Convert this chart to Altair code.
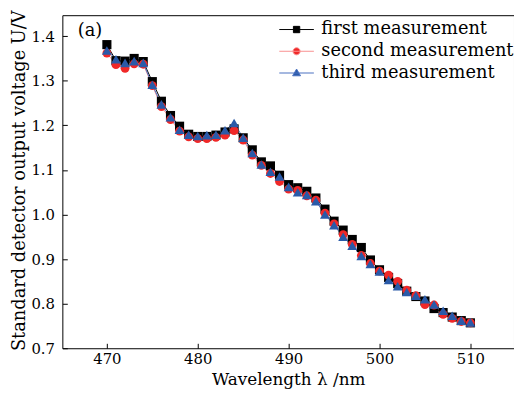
import altair as alt
import pandas as pd

wavelength = [470, 471, 472, 473, 474, 475, 476, 477, 478, 479, 480,
              481, 482, 483, 484, 485, 486, 487, 488, 489, 490,
              491, 492, 493, 494, 495, 496, 497, 498, 499, 500,
              501, 502, 503, 504, 505, 506, 507, 508, 509, 510]
first = [1.381, 1.345, 1.344, 1.350, 1.343, 1.298, 1.254, 1.222, 1.198, 1.180, 1.175,
         1.175, 1.178, 1.185, 1.192, 1.172, 1.145, 1.118, 1.109, 1.088, 1.067,
         1.060, 1.052, 1.037, 1.012, 0.985, 0.965, 0.944, 0.926, 0.898, 0.876,
         0.859, 0.845, 0.828, 0.816, 0.806, 0.789, 0.780, 0.770, 0.762, 0.757]
second = [1.362, 1.336, 1.328, 1.338, 1.337, 1.289, 1.242, 1.213, 1.187, 1.174, 1.170,
          1.170, 1.173, 1.178, 1.188, 1.167, 1.133, 1.110, 1.092, 1.074, 1.057,
          1.054, 1.042, 1.032, 1.003, 0.979, 0.955, 0.933, 0.908, 0.890, 0.873,
          0.864, 0.850, 0.830, 0.818, 0.798, 0.797, 0.776, 0.767, 0.760, 0.757]
third = [1.368, 1.348, 1.340, 1.344, 1.340, 1.291, 1.247, 1.218, 1.190, 1.179, 1.176,
         1.178, 1.179, 1.189, 1.205, 1.172, 1.138, 1.112, 1.096, 1.085, 1.062,
         1.050, 1.044, 1.030, 1.000, 0.976, 0.950, 0.930, 0.907, 0.889, 0.872,
         0.853, 0.839, 0.826, 0.818, 0.810, 0.798, 0.784, 0.773, 0.762, 0.758]

series_names = ["first measurement", "second measurement", "third measurement"]
marker_colors = ["#000000", "#f02828", "#2a5aa8"]
line_colors = ["#000000", "#f89090", "#4a70c0"]
x_ticks = [470, 480, 490, 500, 510]
y_ticks = [0.7, 0.8, 0.9, 1.0, 1.1, 1.2, 1.3, 1.4]

legend_paths = [
    "M-1.75,0H1.75M-0.32,-0.32H0.32V0.32H-0.32Z",
    "M-1.75,0H1.75M-0.36,0A0.36,0.36,0,1,0,0.36,0A0.36,0.36,0,1,0,-0.36,0Z",
    "M-1.75,0H1.75M0,-0.4L0.4,0.28L-0.4,0.28Z",
]

rows = []
for name, vals in zip(series_names, [first, second, third]):
    for w, v in zip(wavelength, vals):
        rows.append({"w": w, "v": v, "series": name})
df = pd.DataFrame(rows)

FONT = "DejaVu Serif"

x = alt.X("w:Q",
          scale=alt.Scale(domain=[465.1, 514.8], nice=False, zero=False),
          axis=alt.Axis(values=x_ticks, format="d", title="Wavelength λ /nm",
                        grid=False, domain=False, offset=-5, tickSize=5,
                        labelPadding=3, titleFontSize=17,
                        titleBaseline="alphabetic", titleY=42))
y = alt.Y("v:Q",
          scale=alt.Scale(domain=[0.7, 1.447], nice=False, zero=False),
          axis=alt.Axis(values=y_ticks, format=".1f",
                        title="Standard detector output voltage U/V",
                        grid=False, domain=False, offset=-5, tickSize=5,
                        labelPadding=8, titleFontSize=18,
                        titleX=-39, titleY=167))

base = alt.Chart(df)
layers = []
for name, lc in zip(series_names, line_colors):
    layers.append(base.transform_filter(alt.datum.series == name)
                  .mark_line(color=lc, strokeWidth=1)
                  .encode(x=x, y=y))

layers.append(base.transform_filter(alt.datum.series == series_names[0])
              .mark_square(color=marker_colors[0], size=85, opacity=1)
              .encode(x=x, y=y))
layers.append(base.transform_filter(alt.datum.series == series_names[1])
              .mark_circle(color=marker_colors[1], size=80, opacity=1)
              .encode(x=x, y=y))
layers.append(base.transform_filter(alt.datum.series == series_names[2])
              .mark_point(shape="triangle-up", filled=True, color=marker_colors[2],
                          size=100, opacity=1)
              .encode(x=x, y=y))

leg = alt.Legend(title=None, orient="none", legendX=226.5, legendY=4,
                 labelFont=FONT, labelFontSize=18, labelColor="black",
                 labelOffset=14.5, rowPadding=2, symbolSize=400,
                 symbolStrokeWidth=1, padding=0, labelLimit=400)
legend_layer = (base.transform_filter("datum.w > 100000")
                .mark_point(filled=True, opacity=1)
                .encode(x=x, y=y,
                        color=alt.Color("series:N", scale=alt.Scale(domain=series_names, range=marker_colors), legend=leg),
                        stroke=alt.Stroke("series:N", scale=alt.Scale(domain=series_names, range=line_colors), legend=leg),
                        shape=alt.Shape("series:N", scale=alt.Scale(domain=series_names, range=legend_paths), legend=leg)))
layers.append(legend_layer)

label_a = alt.Chart(pd.DataFrame({"t": ["(a)"]})).mark_text(
    font=FONT, fontSize=18, color="black", baseline="middle", align="center"
).encode(text="t:N", x=alt.value(28), y=alt.value(16))
layers.append(label_a)

chart = alt.layer(*layers).properties(
    width=457, height=337,
    autosize=alt.AutoSizeParams(type="none"),
    padding={"left": 55, "top": 5, "right": 0, "bottom": 43},
).configure_view(stroke="black", strokeWidth=1).configure_axis(
    tickColor="black", labelColor="black", titleColor="black",
    labelFont=FONT, titleFont=FONT, labelFontSize=15,
    titleFontWeight="normal",
)

chart.save("out.html", embed_options={"renderer": "svg", "actions": False})
